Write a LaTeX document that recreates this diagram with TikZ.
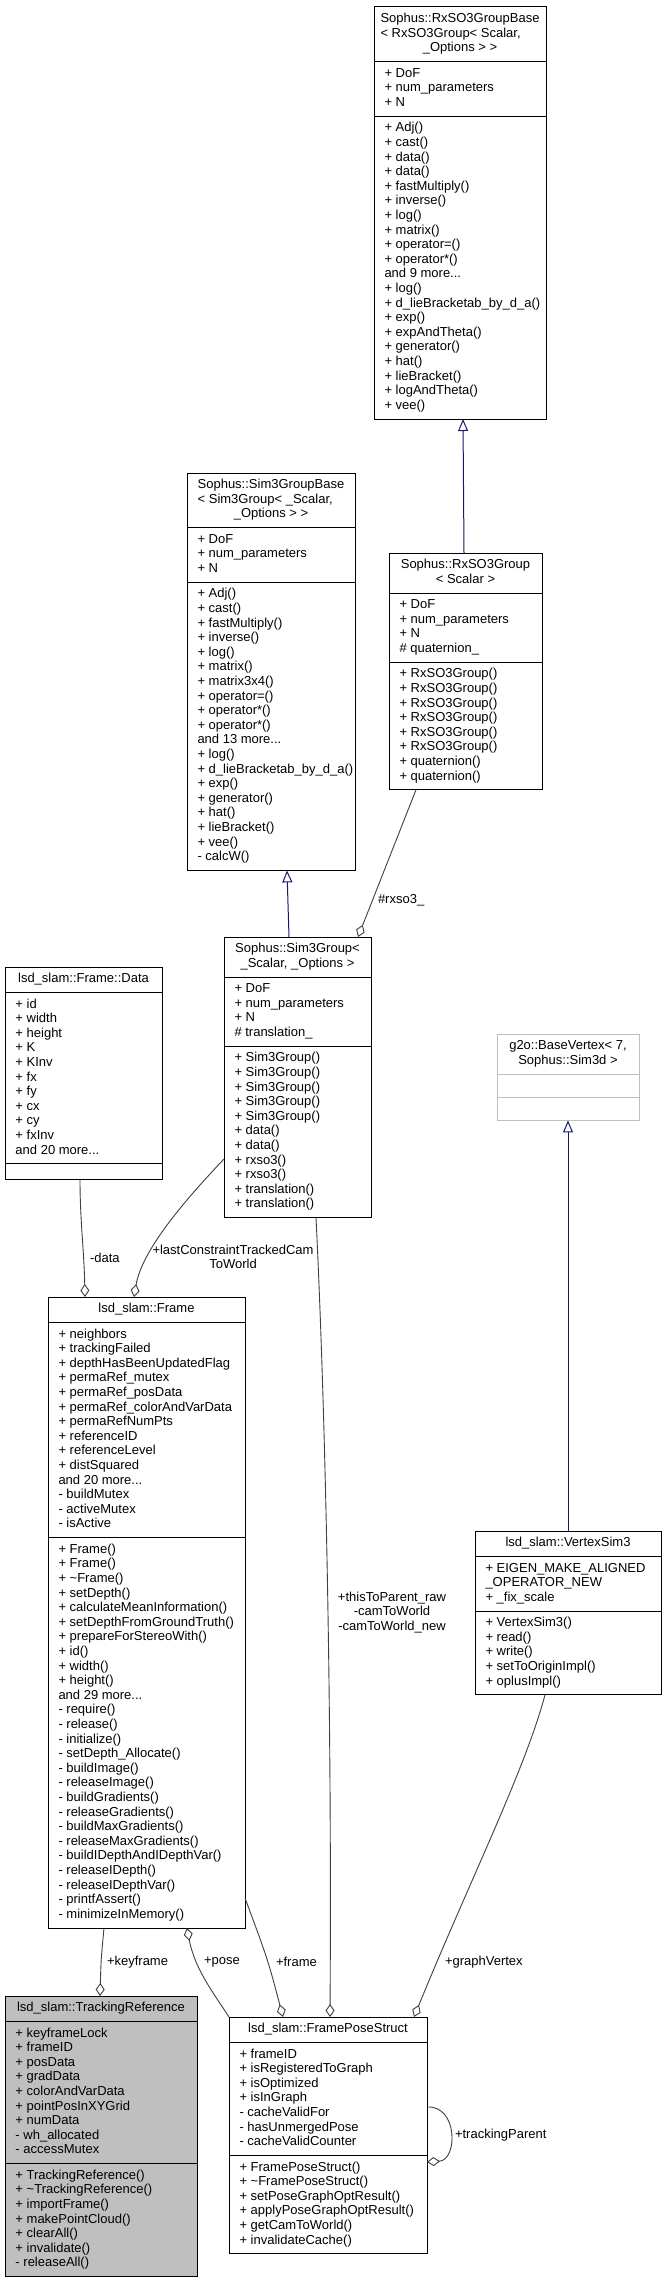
\documentclass[tikz,border=0pt]{standalone}
\usepackage{fontspec}
\setmainfont{Liberation Sans}
\usetikzlibrary{arrows.meta,calc}
\definecolor{inhcol}{HTML}{191970}
\definecolor{aggcol}{HTML}{404040}
\definecolor{trfill}{HTML}{BFBFBF}
\definecolor{undoc}{HTML}{BFBFBF}
\newcommand\myLH{14.6}
\newcommand\myPD{10.8}
\tikzset{
  ctext/.style={inner sep=0pt, outer sep=0pt, font=\fontsize{13}{14.6}\selectfont},
  cbox/.style={line width=1pt, inner sep=0pt, outer sep=0pt},
  sepline/.style={line width=1pt},
  inh/.style={draw=inhcol, line width=1pt, -{Triangle[open,length=12pt,width=10pt]}},
  agg/.style={draw=aggcol, line width=0.9pt, {Diamond[open,length=13pt,width=9pt]}-},
  lbl/.style={ctext},
}
\newcommand\classbox[9]{%
  \pgfmathsetmacro\cbhT{#5*\myLH+\myPD}%
  \pgfmathsetmacro\cbhA{#6*\myLH+\myPD}%
  \pgfmathsetmacro\cbhM{#7*\myLH+\myPD}%
  \pgfmathsetmacro\cbhH{\cbhT+\cbhA+\cbhM}%
  \node[cbox,draw=#8,fill=#9,minimum width=#4pt,minimum height=\cbhH pt,anchor=north west] (#1) at (#2,#3) {};
  \draw[sepline,draw=#8] ($(#1.north west)+(0,\cbhT)$) -- ++(#4,0);
  \draw[sepline,draw=#8] ($(#1.north west)+(0,\cbhT+\cbhA)$) -- ++(#4,0);
  \node[ctext,align=center,anchor=north] (#1-t) at ($(#1.north west)+(#4/2,\myPD/2)$) {\strut\cbT};
  \node[ctext,align=left,anchor=north west] (#1-a) at ($(#1.north west)+(10.5,\cbhT+\myPD/2)$) {\strut\cbA};
  \node[ctext,align=left,anchor=north west] (#1-m) at ($(#1.north west)+(10.5,\cbhT+\cbhA+\myPD/2)$) {\strut\cbM};
}
\begin{document}
\begin{tikzpicture}[x=1pt,y=-1pt]
\fill[white] (0,0) rectangle (667,2283);
\useasboundingbox (0,0) rectangle (667,2283);

% RxSO3GroupBase
\def\cbT{{\begin{tabular}[t]{@{}l@{}}Sophus::RxSO3GroupBase\\< RxSO3Group< Scalar,\\\multicolumn{1}{@{}c@{}}{\_Options > >}\end{tabular}}}
\def\cbA{+ DoF\\+ num\_parameters\\+ N}
\def\cbM{+ Adj()\\+ cast()\\+ data()\\+ data()\\+ fastMultiply()\\+ inverse()\\+ log()\\+ matrix()\\+ operator=()\\+ operator*()\\and 9 more...\\+ log()\\+ d\_lieBracketab\_by\_d\_a()\\+ exp()\\+ expAndTheta()\\+ generator()\\+ hat()\\+ lieBracket()\\+ logAndTheta()\\+ vee()}
\classbox{rb}{374}{7}{172}{3}{3}{20}{black}{white}

% Sim3GroupBase
\def\cbT{{\begin{tabular}[t]{@{}l@{}}Sophus::Sim3GroupBase\\< Sim3Group< \_Scalar,\\\multicolumn{1}{@{}c@{}}{\_Options > >}\end{tabular}}}
\def\cbA{+ DoF\\+ num\_parameters\\+ N}
\def\cbM{+ Adj()\\+ cast()\\+ fastMultiply()\\+ inverse()\\+ log()\\+ matrix()\\+ matrix3x4()\\+ operator=()\\+ operator*()\\+ operator*()\\and 13 more...\\+ log()\\+ d\_lieBracketab\_by\_d\_a()\\+ exp()\\+ generator()\\+ hat()\\+ lieBracket()\\+ vee()\\- calcW()}
\classbox{sb}{187}{473}{168}{3}{3}{19}{black}{white}

% RxSO3Group
\def\cbT{Sophus::RxSO3Group\\< Scalar >}
\def\cbA{+ DoF\\+ num\_parameters\\+ N\\\# quaternion\_}
\def\cbM{+ RxSO3Group()\\+ RxSO3Group()\\+ RxSO3Group()\\+ RxSO3Group()\\+ RxSO3Group()\\+ RxSO3Group()\\+ quaternion()\\+ quaternion()}
\classbox{rg}{389}{553}{153}{2}{4}{8}{black}{white}

% Sim3Group
\def\cbT{Sophus::Sim3Group<\\\_Scalar, \_Options >}
\def\cbA{+ DoF\\+ num\_parameters\\+ N\\\# translation\_}
\def\cbM{+ Sim3Group()\\+ Sim3Group()\\+ Sim3Group()\\+ Sim3Group()\\+ Sim3Group()\\+ data()\\+ data()\\+ rxso3()\\+ rxso3()\\+ translation()\\+ translation()}
\classbox{sg}{224}{937}{147}{2}{4}{11}{black}{white}

% Frame::Data
\def\cbT{lsd\_slam::Frame::Data}
\def\cbA{+ id\\+ width\\+ height\\+ K\\+ KInv\\+ fx\\+ fy\\+ cx\\+ cy\\+ fxInv\\and 20 more...}
\def\cbM{}
\classbox{fd}{5}{967}{157}{1}{11}{0.35}{black}{white}

% g2o BaseVertex
\def\cbT{g2o::BaseVertex< 7,\\Sophus::Sim3d >}
\def\cbA{}
\def\cbM{}
\classbox{g2o}{497}{1034}{142}{2}{0.85}{0.85}{undoc}{white}

% Frame
\def\cbT{lsd\_slam::Frame}
\def\cbA{+ neighbors\\+ trackingFailed\\+ depthHasBeenUpdatedFlag\\+ permaRef\_mutex\\+ permaRef\_posData\\+ permaRef\_colorAndVarData\\+ permaRefNumPts\\+ referenceID\\+ referenceLevel\\+ distSquared\\and 20 more...\\- buildMutex\\- activeMutex\\- isActive}
\def\cbM{+ Frame()\\+ Frame()\\+ \textasciitilde Frame()\\+ setDepth()\\+ calculateMeanInformation()\\+ setDepthFromGroundTruth()\\+ prepareForStereoWith()\\+ id()\\+ width()\\+ height()\\and 29 more...\\- require()\\- release()\\- initialize()\\- setDepth\_Allocate()\\- buildImage()\\- releaseImage()\\- buildGradients()\\- releaseGradients()\\- buildMaxGradients()\\- releaseMaxGradients()\\- buildIDepthAndIDepthVar()\\- releaseIDepth()\\- releaseIDepthVar()\\- printfAssert()\\- minimizeInMemory()}
\classbox{fr}{48}{1297}{197}{1}{14}{26}{black}{white}

% VertexSim3
\def\cbT{lsd\_slam::VertexSim3}
\def\cbA{+ EIGEN\_MAKE\_ALIGNED\\\_OPERATOR\_NEW\\+ \_fix\_scale}
\def\cbM{+ VertexSim3()\\+ read()\\+ write()\\+ setToOriginImpl()\\+ oplusImpl()}
\classbox{vs}{475}{1531}{186}{1}{3}{5}{black}{white}

% TrackingReference
\def\cbT{lsd\_slam::TrackingReference}
\def\cbA{+ keyframeLock\\+ frameID\\+ posData\\+ gradData\\+ colorAndVarData\\+ pointPosInXYGrid\\+ numData\\- wh\_allocated\\- accessMutex}
\def\cbM{+ TrackingReference()\\+ \textasciitilde TrackingReference()\\+ importFrame()\\+ makePointCloud()\\+ clearAll()\\+ invalidate()\\- releaseAll()}
\classbox{tr}{5}{1996}{192}{1}{9}{7}{black}{trfill}

% FramePoseStruct
\def\cbT{lsd\_slam::FramePoseStruct}
\def\cbA{+ frameID\\+ isRegisteredToGraph\\+ isOptimized\\+ isInGraph\\- cacheValidFor\\- hasUnmergedPose\\- cacheValidCounter}
\def\cbM{+ FramePoseStruct()\\+ \textasciitilde FramePoseStruct()\\+ setPoseGraphOptResult()\\+ applyPoseGraphOptResult()\\+ getCamToWorld()\\+ invalidateCache()}
\classbox{fps}{229}{2017}{198}{1}{7}{6}{black}{white}

% inheritance
\draw[inh] ($(rg.north west)+(75,0)$) -- ($(rb.south west)+(89,0)$);
\draw[inh] ($(sg.north west)+(65,0)$) -- ($(sb.south west)+(100,0)$);
\draw[inh] ($(vs.north west)+(93,0)$) -- ($(g2o.south west)+(71,0)$);

% aggregation / usage
\draw[agg] ($(sg.north west)+(134,0)$) -- ($(rg.south west)+(27,0)$);
\draw[agg] ($(fr.north west)+(86,0)$) .. controls (142,1250) and (185,1200) .. ($(sg.north west)+(0,222)$);
\draw[agg] ($(fr.north west)+(37,0)$) .. controls (84,1250) and (80,1220) .. ($(fd.south west)+(75,0)$);
\draw[agg] ($(tr.north west)+(95,0)$) .. controls (101,1960) .. ($(fr.south west)+(56,0)$);
\draw[agg] ($(fr.south west)+(139,0)$) .. controls (195,1970) and (215,1995) .. (fps.north west);
\draw[agg] ($(fps.north west)+(54,0)$) .. controls (268,1960) .. ($(fr.north east)+(0,601)$);
\draw[agg] ($(fps.north west)+(101,0)$) .. controls (332,1700) and (325,1400) .. ($(sg.south west)+(92,0)$);
\draw[agg] ($(fps.north west)+(185,0)$) .. controls (470,1880) and (525,1770) .. ($(vs.south west)+(70,0)$);
\draw[agg] ($(fps.north east)+(0,145)$) .. controls (458,2160) and (458,2105) .. ($(fps.north east)+(0,90)$);

% labels
\node[lbl,anchor=west] (lrx) at (378,900) {\#rxso3\_};
\node[lbl,anchor=north,align=center] (llast) at (233,1244) {\strut+lastConstraintTrackedCam\\ToWorld};
\node[lbl,anchor=west] (ldata) at (90,1258) {-data};
\node[lbl,anchor=north,align=center] (lthis) at (392,1591) {\strut+thisToParent\_raw\\-camToWorld\\-camToWorld\_new};
\node[lbl,anchor=west] (lkey) at (107,1962) {+keyframe};
\node[lbl,anchor=west] (lpose) at (204,1962) {+pose};
\node[lbl,anchor=west] (lframe) at (276,1962) {+frame};
\node[lbl,anchor=west] (lgv) at (445,1962) {+graphVertex};
\node[lbl,anchor=west] (ltp) at (455,2135) {+trackingParent};
\end{tikzpicture}
\end{document}
